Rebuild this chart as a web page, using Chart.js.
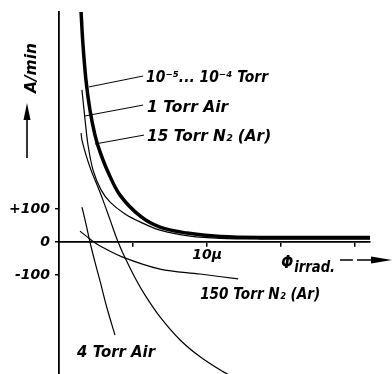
<!DOCTYPE html>
<html lang="en">
<head>
<meta charset="UTF-8">
<title>Rate vs irradiation</title>
<script src="https://cdn.jsdelivr.net/npm/chart.js"></script>
<style>
    html, body { margin: 0; padding: 0; background: #fff; }
    .chart-box { width: 392px; height: 374px; }
</style>
</head>
<body>
<div class="chart-box"><canvas id="rateChart" width="392" height="374"></canvas></div>
<script>
// x = irradiation (micron), y = rate (A/min)
const vacX  = [1.49, 1.62, 1.82, 2.09, 2.43, 2.77, 3.31, 4.12, 5.47, 6.82, 8.65, 10.9, 13.6, 21];
const vacY  = [697, 597, 491, 400, 324, 273, 212, 142, 79, 45, 27, 17, 14, 14];
const air1X = [1.55, 1.76, 1.96, 2.30, 2.84, 3.45, 4.46, 5.47, 6.82, 8.85, 10.9, 13.6, 21];
const air1Y = [461, 370, 294, 218, 158, 121, 85, 61, 36, 18, 11, 9, 9];
const n15X  = [1.49, 1.55, 1.82, 2.16, 2.57, 2.97, 3.45, 3.99, 4.46, 5.14, 5.81, 6.82, 8.18, 9.53, 11.0, 11.9];
const n15Y  = [330, 309, 264, 218, 173, 127, 67, 0, -48, -109, -161, -227, -297, -348, -391, -412];
const air4X = [1.55, 1.82, 2.09, 2.43, 2.77, 3.24, 3.78];
const air4Y = [106, 55, 0, -61, -118, -200, -282];
const n150X = [1.42, 2.09, 2.77, 4.26, 6.82, 9.53, 12.1];
const n150Y = [33, 9, -12, -45, -82, -97, -112];

const xTicks = [5, 10, 15, 20];
const yTicks = [-100, 0, 100];
const yTickText = { '-100': '-100', '0': '0', '100': '+100' };

// leader lines from curve to its label
const leadVacX = [2.03, 5.68];  const leadVacY = [470, 503];
const leadAirX = [1.76, 5.68];  const leadAirY = [382, 415];
const leadN15X = [2.43, 5.74];  const leadN15Y = [297, 324];

const noteText = ['10⁻⁵... 10⁻⁴ Torr', '1 Torr Air', '15 Torr N₂ (Ar)', '4 Torr Air', '150 Torr N₂ (Ar)'];
const noteX = [5.88, 5.95, 5.95, 1.22, 9.53];
const noteY = [485, 394, 306, -348, -173];
const noteW = [122, 81, 124, 78, 120];

const FONT = '"DejaVu Sans", sans-serif';

function pts(xs, ys) {
    return xs.map((x, i) => ({ x: x, y: ys[i] }));
}

function curve(label, xs, ys, width) {
    return {
        label: label,
        data: pts(xs, ys),
        borderColor: '#000',
        borderWidth: width,
        pointRadius: 0,
        showLine: true,
        tension: 0.35,
        fill: false
    };
}

function leader(xs, ys) {
    return { label: '', data: pts(xs, ys), borderColor: '#000', borderWidth: 1, pointRadius: 0, showLine: true, fill: false };
}

// squeeze text horizontally so it fits the hand lettering width
function fitText(ctx, text, x, y, size, w) {
    ctx.font = 'italic bold ' + size + 'px ' + FONT;
    const m = ctx.measureText(text).width;
    const sx = w ? w / m : 1;
    ctx.save();
    ctx.translate(x, y);
    ctx.scale(sx, 1);
    ctx.fillText(text, 0, 0);
    ctx.restore();
}

function arrowHead(ctx, tipX, tipY, dx, dy, len, half) {
    const bx = tipX - dx * len, by = tipY - dy * len;
    ctx.beginPath();
    ctx.moveTo(tipX, tipY);
    ctx.lineTo(bx - dy * half, by + dx * half);
    ctx.lineTo(bx + dy * half, by - dx * half);
    ctx.closePath();
    ctx.fill();
}

const notesPlugin = {
    id: 'notes',
    afterDraw(chart) {
        const ctx = chart.ctx;
        const sx = chart.scales.x, sy = chart.scales.y;
        ctx.save();
        ctx.fillStyle = '#000';
        ctx.strokeStyle = '#000';
        ctx.textBaseline = 'alphabetic';
        ctx.textAlign = 'left';

        noteText.forEach((t, i) => {
            fitText(ctx, t, sx.getPixelForValue(noteX[i]), sy.getPixelForValue(noteY[i]), 16, noteW[i]);
        });

        // x axis name: Φ irrad. with dashed arrow
        const px = sx.getPixelForValue(15.0), py = sy.getPixelForValue(-79);
        fitText(ctx, 'Φ', px, py, 18, 12);
        fitText(ctx, 'irrad.', px + 13, py + 4, 15, 41);
        ctx.lineWidth = 1.6;
        ctx.beginPath();
        ctx.moveTo(340, 260); ctx.lineTo(353, 260);
        ctx.moveTo(357, 260); ctx.lineTo(371, 260);
        ctx.stroke();
        arrowHead(ctx, 392, 260, 1, 0, 21, 3.5);

        // y axis name: A/min with arrow
        ctx.save();
        ctx.translate(36, 93);
        ctx.rotate(-Math.PI / 2);
        fitText(ctx, 'A/min', 0, 0, 16, 50);
        ctx.restore();
        ctx.lineWidth = 1.6;
        ctx.beginPath();
        ctx.moveTo(27, 158); ctx.lineTo(27, 115);
        ctx.stroke();
        arrowHead(ctx, 27, 103, 0, -1, 17, 3.5);

        ctx.restore();
    }
};

const axisGrid = { display: true, drawOnChartArea: false, drawTicks: true, tickLength: 4, color: '#000', lineWidth: 1.5 };
const axisBorder = { display: true, color: '#000', width: 1.8 };
const tickFont = { family: FONT, size: 14, style: 'italic', weight: 'bold' };

new Chart(document.getElementById('rateChart'), {
    type: 'scatter',
    data: {
        datasets: [
            curve('10⁻⁵... 10⁻⁴ Torr', vacX, vacY, 3.5),
            curve('1 Torr Air', air1X, air1Y, 1.2),
            curve('15 Torr N₂ (Ar)', n15X, n15Y, 1.2),
            curve('4 Torr Air', air4X, air4Y, 1.2),
            curve('150 Torr N₂ (Ar)', n150X, n150Y, 1.2),
            leader(leadVacX, leadVacY),
            leader(leadAirX, leadAirY),
            leader(leadN15X, leadN15Y)
        ]
    },
    options: {
        responsive: false,
        animation: false,
        devicePixelRatio: 1,
        layout: { padding: { top: 12, right: 22, bottom: 0, left: 0 } },
        plugins: { legend: { display: false }, tooltip: { enabled: false } },
        scales: {
            x: {
                type: 'linear',
                min: 0,
                max: 21,
                position: { y: 0 },
                grid: axisGrid,
                border: axisBorder,
                ticks: {
                    color: '#000',
                    font: tickFont,
                    padding: 1,
                    maxRotation: 0,
                    autoSkip: false,
                    callback: v => (v === 10 ? '10μ' : '')
                },
                afterBuildTicks: s => { s.ticks = xTicks.map(v => ({ value: v })); },
                afterFit: s => { s.paddingLeft = 0; s.paddingRight = 0; }
            },
            y: {
                type: 'linear',
                min: -400,
                max: 697,
                position: 'left',
                grid: axisGrid,
                border: axisBorder,
                ticks: {
                    color: '#000',
                    font: tickFont,
                    padding: 5,
                    autoSkip: false,
                    callback: v => yTickText[String(v)] || ''
                },
                afterBuildTicks: s => { s.ticks = yTicks.map(v => ({ value: v })); },
                afterFit: s => { s.width = 59; s.paddingTop = 0; s.paddingBottom = 0; }
            }
        }
    },
    plugins: [notesPlugin]
});
</script>
</body>
</html>
